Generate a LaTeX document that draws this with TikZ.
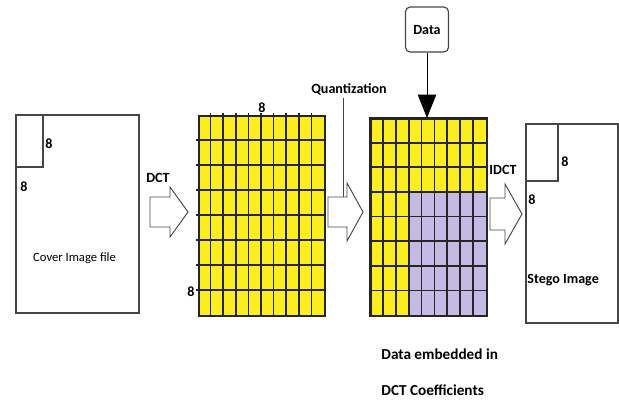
\documentclass[tikz,border=0pt]{standalone}
\usepackage{fontspec}
\setmainfont{Carlito}
\usetikzlibrary{arrows.meta, positioning}
\definecolor{CoefYellow}{RGB}{250,238,32}
\definecolor{EmbedLilac}{RGB}{196,186,228}
\definecolor{EdgeGray}{RGB}{70,70,70}
\newcommand\pxu{0.03cm}

\begin{document}
\begin{tikzpicture}[x=0.03cm, y=-0.03cm,
    imgbox/.style={rectangle, draw=EdgeGray, line width=1.3pt, fill=white, inner sep=0pt, anchor=north west},
    blockbox/.style={rectangle, draw=EdgeGray, line width=1.3pt, inner sep=0pt, anchor=north west},
    coefgrid/.style={rectangle, draw=black!85, line width=1.4pt, fill=CoefYellow, inner sep=0pt, anchor=north west},
    gridline/.style={line width=1.5pt, black!85},
    blockarrow/.style={draw=EdgeGray, line width=0.8pt, fill=white, line join=miter},
    lbl/.style={font=\fontsize{12}{14}\selectfont\bfseries, inner sep=1pt},
    databox/.style={rectangle, rounded corners=4pt, draw=EdgeGray, line width=1pt, fill=white, minimum width=43*\pxu, minimum height=45*\pxu, font=\fontsize{12}{14}\selectfont\bfseries},
    dataarrow/.style={-{Triangle[length=7mm, width=5.5mm]}, line width=0.8pt, black},
  ]
  \useasboundingbox (0,0) rectangle (619,407);

  % Cover image
  \node[imgbox, minimum width=123*\pxu, minimum height=198*\pxu] (cover) at (15,114) {};
  \node[blockbox, minimum width=27*\pxu, minimum height=52*\pxu] (cblock) at (cover.north west) {};
  \node[lbl, anchor=west] (c8r) at (44,144) {8};
  \node[lbl, anchor=west] (c8b) at (19,187) {8};
  \node[font=\fontsize{10.8}{12}\selectfont, anchor=west] (ctext) at (29,258) {Cover Image file};

  % DCT step
  \coordinate (dct) at (150,212);
  \draw[blockarrow] (dct) ++(0,-15) -- ++(20,0) -- ++(0,-10) -- ++(18,25) -- ++(-18,25) -- ++(0,-10) -- ++(-20,0) -- cycle;
  \node[lbl] (dctl) at (158,178) {DCT};

  % DCT coefficients
  \node[coefgrid, minimum width=126*\pxu, minimum height=200*\pxu] (grid1) at (198,115) {};
  \foreach \i in {1,...,9}
    \draw[gridline] (198+\i*12.6,113) -- (198+\i*12.6,317);
  \foreach \j in {1,...,7}
    \draw[gridline] (196,115+\j*25) -- (326,115+\j*25);
  \node[lbl, above=1pt of grid1.north] (g8t) {8};
  \node[lbl, anchor=east] (g8l) at (196,292) {8};

  % Quantization
  \node[lbl] (quant) at (349,89) {Quantization};
  \coordinate (qarrow) at (328,212);
  \draw[blockarrow] (qarrow) ++(0,-15) -- ++(19,0) -- ++(0,-14) -- ++(16,29) -- ++(-16,29) -- ++(0,-14) -- ++(-19,0) -- cycle;
  \draw[line width=0.6pt, EdgeGray] (343,98) -- (343,197);

  % Embedded coefficients
  \node[coefgrid, minimum width=116*\pxu, minimum height=197*\pxu] (grid2) at (370,118) {};
  \fill[EmbedLilac] (370+3*12.89,118+3*24.625) rectangle (486,315);
  \foreach \i in {1,...,8}
    \draw[gridline] (370+\i*12.89,118) -- (370+\i*12.89,315);
  \foreach \j in {1,...,7}
    \draw[gridline] (370,118+\j*24.625) -- (486,118+\j*24.625);
  \draw[black!85, line width=1.4pt] (grid2.north west) rectangle (grid2.south east);

  % Data input
  \node[databox] (data) at (427,29.5) {Data};
  \draw[dataarrow] (data) -- (data |- grid2.north);

  \node[lbl, anchor=north west, align=left, font=\fontsize{13}{31}\selectfont\bfseries] (embed) at (380,347) {Data embedded in\\DCT Coefficients};

  % IDCT step
  \coordinate (idct) at (490,214);
  \draw[blockarrow] (idct) ++(0,-16) -- ++(15,0) -- ++(0,-14) -- ++(17,30) -- ++(-17,30) -- ++(0,-14) -- ++(-15,0) -- cycle;
  \node[lbl] (idctl) at (503,170) {IDCT};

  % Stego image
  \node[imgbox, minimum width=92*\pxu, minimum height=199*\pxu] (stego) at (525,123) {};
  \node[blockbox, minimum width=32*\pxu, minimum height=57*\pxu] (sblock) at (stego.north west) {};
  \node[lbl, anchor=west] (s8r) at (560,162) {8};
  \node[lbl, anchor=west] (s8b) at (527,200) {8};
  \node[lbl, anchor=west] (stext) at (526,280) {Stego Image};
\end{tikzpicture}
\end{document}
